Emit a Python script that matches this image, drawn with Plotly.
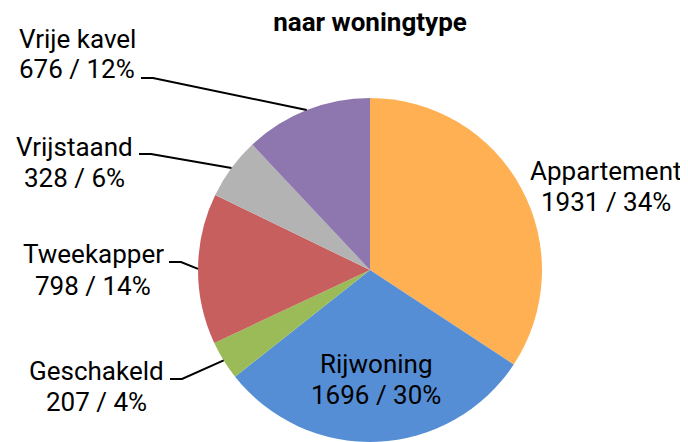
import math
import plotly.graph_objects as go

labels = ["Appartement", "Rijwoning", "Geschakeld", "Tweekapper", "Vrijstaand", "Vrije kavel"]
values = [1931, 1696, 207, 798, 328, 676]
colors = ["#FFB053", "#558ED5", "#9BBB59", "#C65F5D", "#B3B3B3", "#8E77AF"]

# the page body has an 8px margin, so the figure is drawn 8px in from the corner
OFF = 8
W, H = 688 - OFF, 442 - OFF
# pie geometry in page pixels
cx, cy, R = 370, 270, 172

# label block centres (page px) and leader start (page px) per slice, None = no leader
label_pos = [(606, 186), (376, 379), (96, 386), (93, 270), (74, 162), (77, 54)]
leader_start = [None, None, (170, 379), (169, 262), (139, 154), (141, 78)]
leader_knee = 12
line_gap = 31

total = sum(values)


def px(x, y):
    return (x - OFF) / W, 1 - (y - OFF) / H


fig = go.Figure()
fig.add_trace(go.Pie(
    labels=labels, values=values, sort=False, direction="clockwise", rotation=0,
    marker=dict(colors=colors, line=dict(width=0)),
    textinfo="none", hoverinfo="label+value+percent", showlegend=False,
    domain=dict(x=[(cx - R - OFF) / W, (cx + R - OFF) / W], y=[0, 2 * R / H]),
))

cum = 0
shapes = []
annotations = []
for i, (lab, v) in enumerate(zip(labels, values)):
    mid = (cum + v / 2) / total * 2 * math.pi
    cum += v
    pct = round(v / total * 100)
    bx, by = label_pos[i]
    for k, line in enumerate([lab, f"{v} / {pct}%"]):
        lx, ly = px(bx, by + (k - 0.5) * line_gap)
        annotations.append(dict(
            x=lx, y=ly, xref="paper", yref="paper", xanchor="center", yanchor="middle",
            text=line, showarrow=False,
            font=dict(family="Roboto", size=26, color="#000000"),
        ))
    if leader_start[i] is not None:
        sx, sy = leader_start[i]
        ex = cx + R * math.sin(mid)
        ey = cy - R * math.cos(mid)
        p = [px(sx, sy), px(sx + leader_knee, sy), px(ex, ey)]
        path = "M {} {} L {} {} L {} {}".format(*[c for pt in p for c in pt])
        shapes.append(dict(type="path", xref="paper", yref="paper", path=path,
                           line=dict(color="#000000", width=2)))

fig.update_layout(
    width=W, height=H, margin=dict(l=0, r=0, t=0, b=0),
    paper_bgcolor="white", plot_bgcolor="white",
    title=dict(text="<b>naar woningtype</b>", x=(370 - OFF) / W, xanchor="center",
               y=1 - (22 - OFF) / H, yanchor="middle",
               font=dict(family="Roboto", size=26, color="#000000")),
    shapes=shapes, annotations=annotations,
)

fig.write_html("out.html")
